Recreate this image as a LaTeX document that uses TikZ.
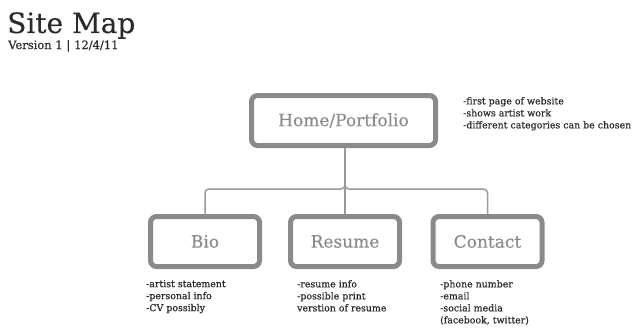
\documentclass[tikz,border=0pt]{standalone}
\usepackage{fontspec}
\setmainfont{DejaVu Serif}
\newfontfamily\heavyslab[FakeBold=0.6]{DejaVu Serif}
\newfontfamily\midslab[FakeBold=0.3]{DejaVu Serif}
\usepackage{tikz}

\definecolor{boxgray}{HTML}{8A8A8A}
\definecolor{linegray}{HTML}{9A9A9A}
\definecolor{ink}{HTML}{2A2A2A}

\tikzset{
  page/.style={draw=boxgray, line width=5pt, rounded corners=6pt, text=boxgray,
    font=\midslab\fontsize{17}{20}\selectfont, minimum height=50pt, inner sep=0pt},
  notes/.style={anchor=north west, align=left, inner sep=0pt, text=ink,
    font=\heavyslab\fontsize{9.4}{12}\selectfont},
  link/.style={draw=linegray, line width=1.5pt, rounded corners=4pt}
}

\begin{document}
\begin{tikzpicture}[x=1pt, y=-1pt]
  \useasboundingbox (0,0) rectangle (642,329);

  \node[anchor=base west, inner sep=0pt, text=ink, font=\midslab\fontsize{28}{30}\selectfont] (title) at (7,33) {Site Map};
  \node[anchor=base west, inner sep=0pt, text=ink, font=\heavyslab\fontsize{11.5}{13}\selectfont] (version) at (8,49) {Version 1\,\,|\,\,12/4/11};

  \node[page, minimum width=184pt] (home) at (343.5,120.5) {Home/Portfolio};

  \node[page, minimum width=109pt] (bio) at (205,241.5) {Bio};
  \node[page, minimum width=109pt] (resume) at (345,241.5) {Resume};
  \node[page, minimum width=109pt] (contact) at (487.5,241.5) {Contact};

  % branches
  \coordinate (hub) at (345,189);
  \draw[link] (bio.north) |- (hub) -- (home.south -| hub);
  \draw[link] (contact.north) |- (hub) -- (home.south -| hub);
  \draw[link] (resume.north) -- (home.south -| resume);

  \node[notes] (homenotes) at (463,97) {-first page of website\\-shows artist work\\-different categories can be chosen};
  \node[notes] (bionotes) at (146,280) {-artist statement\\-personal info\\-CV possibly};
  \node[notes] (resumenotes) at (297,280) {-resume info\\-possible print\\verstion of resume};
  \node[notes] (contactnotes) at (440,280) {-phone number\\-email\\-social media\\(facebook, twitter)};
\end{tikzpicture}
\end{document}
